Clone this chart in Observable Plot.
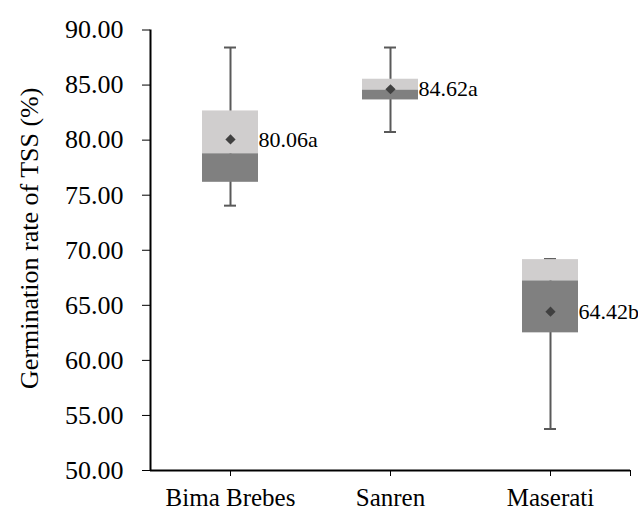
<!DOCTYPE html>
<html>
<head>
<meta charset="utf-8">
<script src="https://cdn.jsdelivr.net/npm/d3@7"></script>
<script src="https://cdn.jsdelivr.net/npm/@observablehq/plot@0.6"></script>
<style>
  html, body { margin: 0; padding: 0; background: #fff; }
</style>
</head>
<body>
<div id="chart"></div>
<script>
const categories = ["Bima Brebes", "Sanren", "Maserati"];
const whiskerMin = [74.05, 80.74, 53.77];
const q1 = [76.17, 83.65, 62.50];
const median = [78.77, 84.56, 67.23];
const q3 = [82.65, 85.53, 69.15];
const whiskerMax = [88.41, 88.41, 69.20];
const means = [80.06, 84.62, 64.42];
const letters = ["a", "a", "b"];
const yTicks = [50, 55, 60, 65, 70, 75, 80, 85, 90];
const yTitle = "Germination rate of TSS (%)";

const data = categories.map((c, k) => ({
  i: k + 1, cat: c,
  lo: whiskerMin[k], q1: q1[k], med: median[k], q3: q3[k], hi: whiskerMax[k],
  mean: means[k], label: means[k].toFixed(2) + letters[k]
}));

const font = "'Liberation Serif', serif";
const boxHalf = 0.175, capHalf = 0.0375;

const chart = Plot.plot({
  width: 638,
  height: 514,
  marginLeft: 150,
  marginRight: 8,
  marginTop: 29.5,
  marginBottom: 44,
  style: { fontFamily: font, fontSize: "26px", color: "#000", background: "#fff", overflow: "visible" },
  x: { domain: [0.5, 3.5] },
  y: { domain: [50, 90] },
  marks: [
    Plot.ruleX(data, { x: "i", y1: "lo", y2: "hi", stroke: "#595959", strokeWidth: 2 }),
    Plot.ruleY(data, { y: "hi", x1: d => d.i - capHalf, x2: d => d.i + capHalf, stroke: "#595959", strokeWidth: 2 }),
    Plot.ruleY(data, { y: "lo", x1: d => d.i - capHalf, x2: d => d.i + capHalf, stroke: "#595959", strokeWidth: 2 }),
    Plot.rect(data, { x1: d => d.i - boxHalf, x2: d => d.i + boxHalf, y1: "q1", y2: "med", fill: "#808080" }),
    Plot.rect(data, { x1: d => d.i - boxHalf, x2: d => d.i + boxHalf, y1: "med", y2: "q3", fill: "#d0cece" }),
    Plot.dot(data, { x: "i", y: "mean", symbol: "diamond2", r: 4.6, fill: "#404040", stroke: "none" }),
    Plot.text(data, { x: "i", y: "mean", text: "label", dx: 28, textAnchor: "start", fontSize: 22, fill: "#000" }),
    Plot.axisY({ ticks: yTicks, tickFormat: d3.format(".2f"), tickSize: 8, tickPadding: 19, tickWidth: 2, stroke: "#000", fontSize: 26, label: null }),
    Plot.axisX({ ticks: [1, 2, 3, 3.5], tickFormat: d => categories[d - 1] ?? "", tickSize: 6, tickPadding: 12, stroke: "#000", fontSize: 25, label: null }),
    Plot.ruleX([0.5], { y1: 50, y2: 90, stroke: "#000", strokeWidth: 2 }),
    Plot.ruleY([50], { stroke: "#000", strokeWidth: 2 }),
    Plot.text([yTitle], { frameAnchor: "left", rotate: -90, dx: -121, dy: -12, fontSize: 26, fill: "#000", textAnchor: "middle" })
  ]
});
document.getElementById("chart").appendChild(chart);
</script>
</body>
</html>
